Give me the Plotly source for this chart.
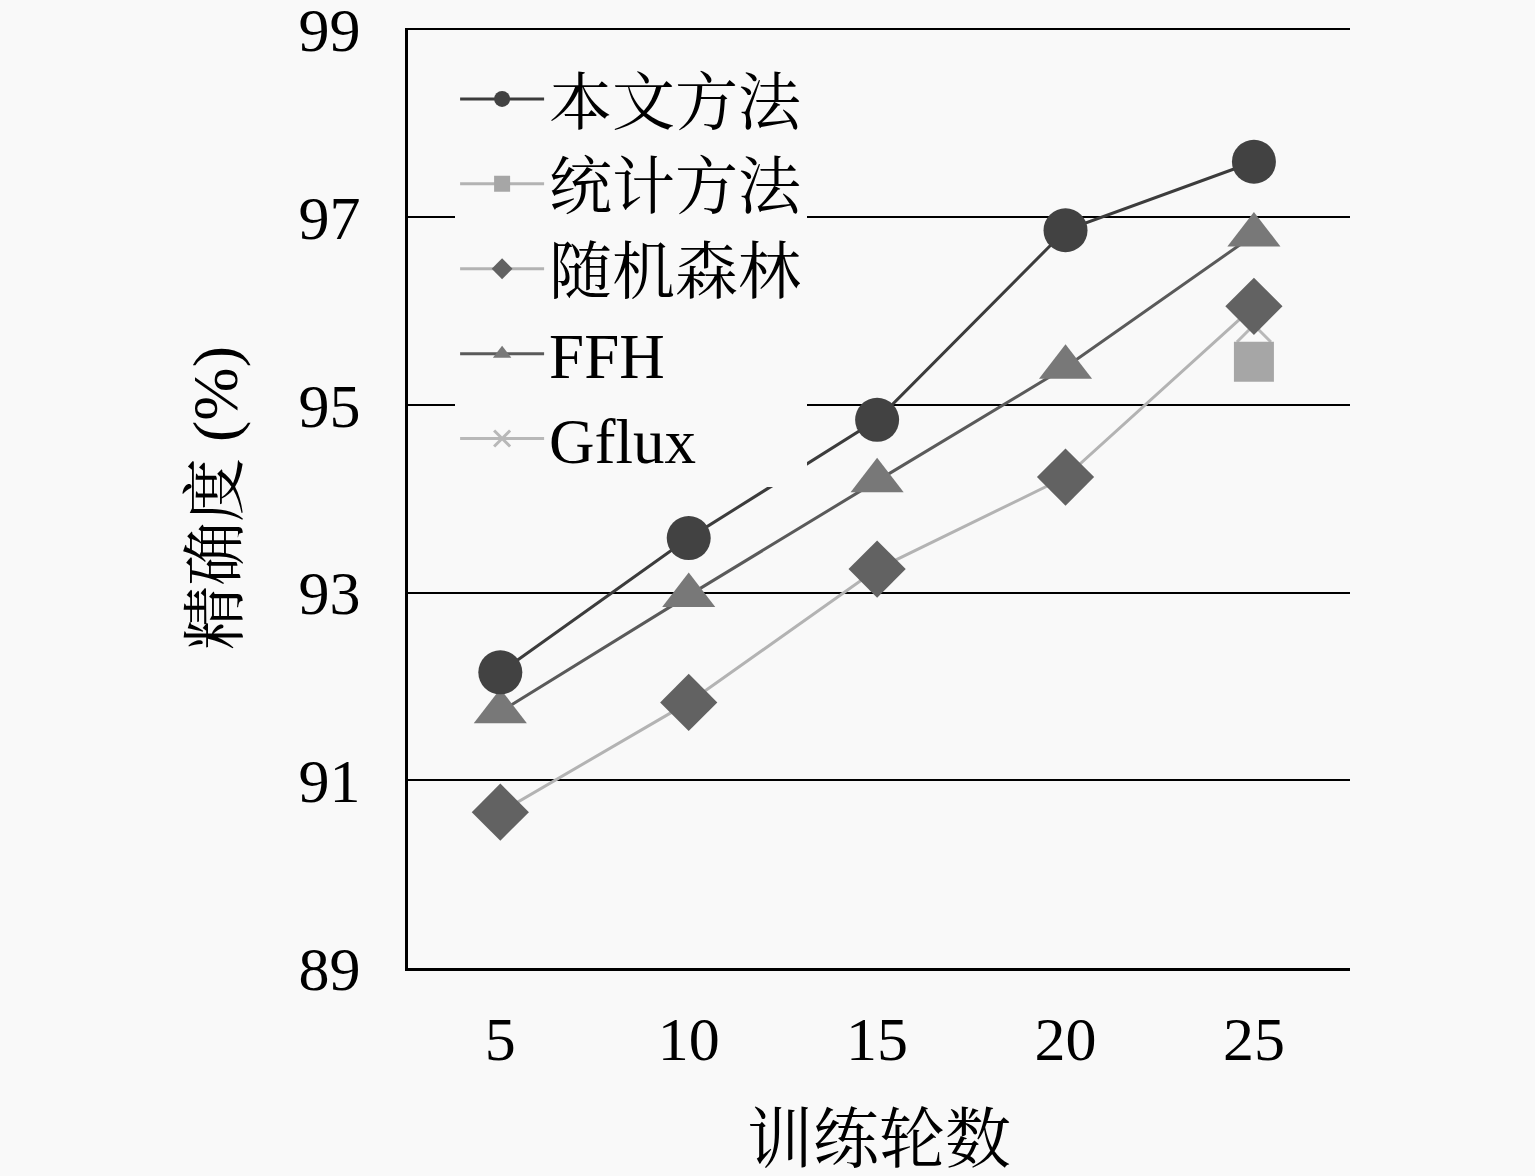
import plotly.graph_objects as go

# 训练轮数
epochs = [5, 10, 15, 20, 25]

# 各方法精确度 (%)
ours = [92.15, 93.58, 94.84, 96.86, 97.59]
stat_x = [25]
stat_y = [95.46]
rf = [90.66, 91.83, 93.25, 94.23, 96.05]
ffh = [91.73, 92.97, 94.19, 95.40, 96.81]
gflux_x = [25]
gflux_y = [95.85]

y_ticks = [89, 91, 93, 95, 97, 99]
x_ticks = [5, 10, 15, 20, 25]

BG = "#f9f9f9"
FONT = "Liberation Serif, Noto Serif CJK SC, Noto Sans CJK SC"

fig = go.Figure()

# Gflux 先画，放在随机森林菱形下面
fig.add_trace(go.Scatter(
    x=gflux_x, y=gflux_y, name="Gflux", legendrank=5, mode="lines+markers",
    line=dict(color="#b8b8b8", width=3),
    marker=dict(symbol="x-thin", size=34, color="#b8b8b8",
                line=dict(color="#b8b8b8", width=3)),
))
fig.add_trace(go.Scatter(
    x=epochs, y=rf, name="随机森林", legendrank=3, mode="lines+markers",
    line=dict(color="#b3b3b3", width=3),
    marker=dict(symbol="diamond", size=44, color="#626262"),
))
fig.add_trace(go.Scatter(
    x=epochs, y=ffh, name="FFH", legendrank=4, mode="lines+markers",
    line=dict(color="#5a5a5a", width=3),
    marker=dict(symbol="triangle-up", size=46, color="#787878"),
))
fig.add_trace(go.Scatter(
    x=stat_x, y=stat_y, name="统计方法", legendrank=2, mode="lines+markers",
    line=dict(color="#b3b3b3", width=3),
    marker=dict(symbol="square", size=40, color="#a6a6a6"),
))
fig.add_trace(go.Scatter(
    x=epochs, y=ours, name="本文方法", legendrank=1, mode="lines+markers",
    line=dict(color="#3c3c3c", width=3),
    marker=dict(symbol="circle", size=44, color="#424242"),
))

fig.update_layout(
    width=1535, height=1176,
    paper_bgcolor=BG, plot_bgcolor=BG,
    margin=dict(l=408, r=185, t=28, b=208),
    font=dict(family=FONT, size=62, color="black"),
    showlegend=True,
    legend=dict(
        x=0.05, y=0.975, xanchor="left", yanchor="top",
        bgcolor=BG, borderwidth=0,
        traceorder="normal",
        itemwidth=84,
        font=dict(family=FONT, size=63),
        tracegroupgap=0,
    ),
    xaxis=dict(
        range=[2.55, 27.55], tickvals=x_ticks,
        showgrid=False, zeroline=False,
        showline=True, linecolor="black", linewidth=3,
        ticks="", ticklabelstandoff=15,
        tickfont=dict(size=62),
        automargin=False,
        title=dict(text="训练轮数", standoff=53, font=dict(size=66)),
    ),
    yaxis=dict(
        range=[89, 99.015], tickvals=y_ticks,
        showgrid=True, gridcolor="black", gridwidth=2,
        zeroline=False,
        showline=True, linecolor="black", linewidth=3,
        ticks="", ticklabelstandoff=32,
        ticklabeloverflow="allow",
        tickfont=dict(size=62),
        automargin=False,
        title=dict(text="精确度 (%)", standoff=41, font=dict(size=64)),
    ),
)

fig.write_html(
    "out.html",
    config={"displayModeBar": False},
    post_script="document.body.style.margin='0';"
                "document.body.style.background='%s';" % BG,
)
